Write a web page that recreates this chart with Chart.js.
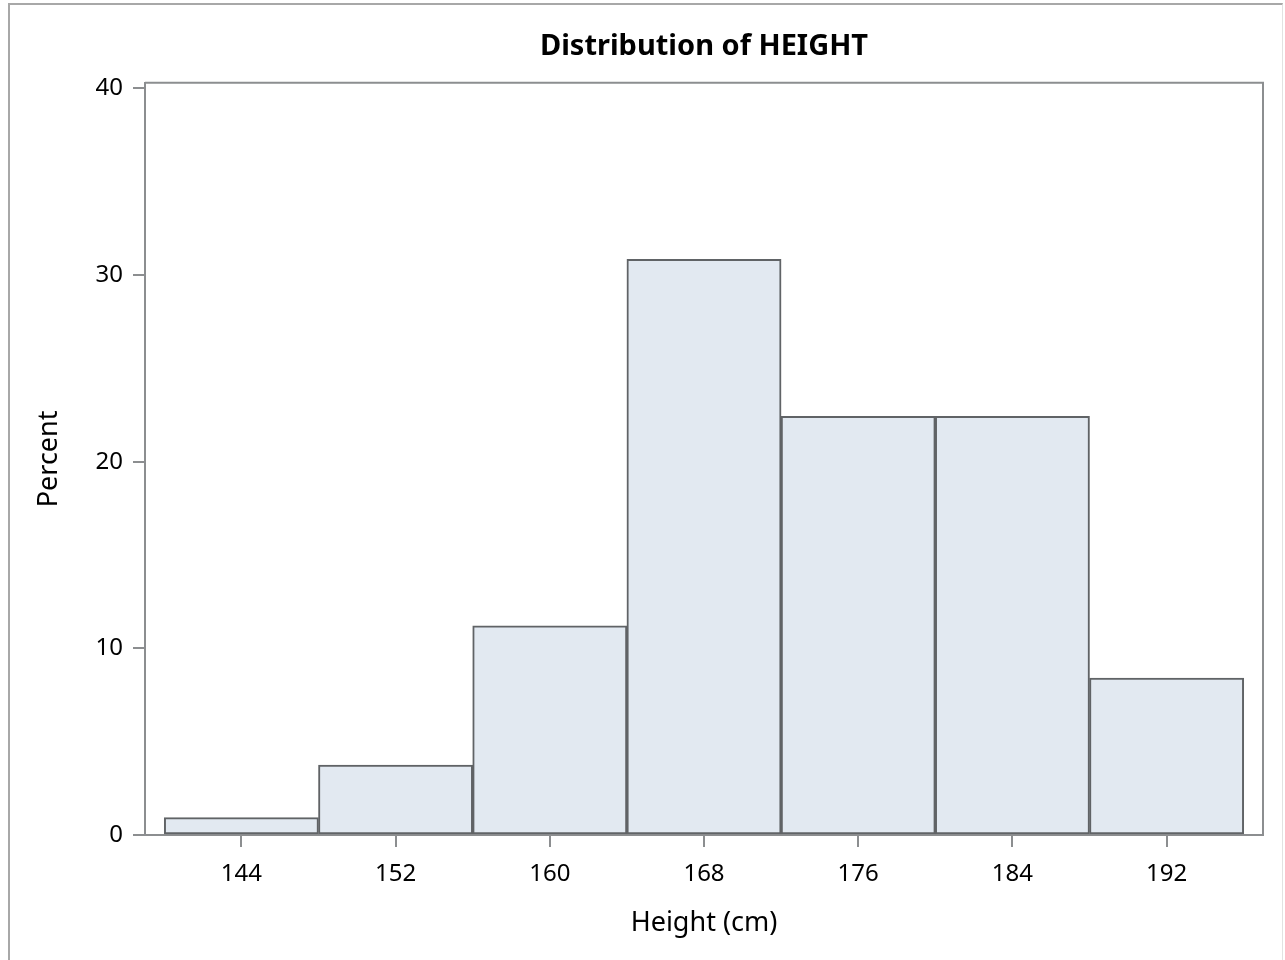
<!DOCTYPE html>
<html>
<head>
<meta charset="utf-8">
<title>Distribution of HEIGHT</title>
<script src="https://cdn.jsdelivr.net/npm/chart.js@4/dist/chart.umd.min.js"></script>
<style>
  html, body { margin: 0; padding: 0; background: #fff; overflow: hidden; }
  #frame {
    position: absolute; left: 8px; top: 3px; width: 1272px; height: 1000px;
    border-top: 2px solid #a8a8a8; border-left: 2px solid #a8a8a8; border-right: 1px solid #e2e2e2;
  }
  #wrap { position: absolute; left: 0; top: 0; width: 1285px; height: 960px; }
</style>
</head>
<body>
<div id="frame"></div>
<div id="wrap"><canvas id="histChart" width="1285" height="960"></canvas></div>
<script>
// bin midpoints (cm) and percent of observations per bin
const binMidpoints = [144, 152, 160, 168, 176, 184, 192];
const percentValues = [0.93, 3.74, 11.21, 30.84, 22.43, 22.43, 8.41];
const xTickValues = [144, 152, 160, 168, 176, 184, 192];
const yTickValues = [0, 10, 20, 30, 40];

const AXIS_GREY = '#8c8e90';

Chart.defaults.font.family = '"Noto Sans", "Open Sans", sans-serif';
Chart.defaults.color = '#000';

// top + right sides of the plot frame
const plotFrame = {
  id: 'plotFrame',
  beforeDatasetsDraw(chart) {
    const { ctx, chartArea: a } = chart;
    ctx.save();
    ctx.strokeStyle = AXIS_GREY;
    ctx.lineWidth = 2;
    ctx.beginPath();
    ctx.moveTo(a.left, a.top);
    ctx.lineTo(a.right, a.top);
    ctx.lineTo(a.right, a.bottom);
    ctx.stroke();
    ctx.restore();
  }
};

const ctx = document.getElementById('histChart').getContext('2d');
new Chart(ctx, {
  type: 'bar',
  data: {
    datasets: [{
      label: 'Percent',
      data: binMidpoints.map((x, i) => ({ x: x, y: percentValues[i] })),
      backgroundColor: '#e2e9f1',
      borderColor: '#606366',
      borderWidth: 2,
      borderSkipped: false,
      barPercentage: 1,
      categoryPercentage: 1
    }]
  },
  options: {
    responsive: false,
    animation: false,
    layout: { padding: { top: 0, right: 22, bottom: 0, left: 0 } },
    plugins: {
      legend: { display: false },
      tooltip: { enabled: false },
      title: {
        display: true,
        fullSize: false,
        text: 'Distribution of HEIGHT',
        font: { size: 29, weight: 'bold' },
        color: '#000',
        padding: { top: 29, bottom: 19 }
      }
    },
    scales: {
      x: {
        type: 'linear',
        min: 139,
        max: 197,
        offset: false,
        afterBuildTicks: s => { s.ticks = xTickValues.map(v => ({ value: v })); },
        afterFit: s => { s.height = 125; },
        grid: { offset: false, drawOnChartArea: false, color: AXIS_GREY, lineWidth: 2, tickLength: 12 },
        border: { display: true, color: AXIS_GREY, width: 2 },
        ticks: { font: { size: 24 }, padding: 13, maxRotation: 0 },
        title: {
          display: true,
          text: 'Height (cm)',
          font: { size: 27 },
          padding: { top: 0, bottom: 20 }
        }
      },
      y: {
        min: 0,
        max: 40.3,
        afterBuildTicks: s => { s.ticks = yTickValues.map(v => ({ value: v })); },
        afterFit: s => { s.width = 145; },
        grid: { drawOnChartArea: false, color: AXIS_GREY, lineWidth: 2, tickLength: 12 },
        border: { display: true, color: AXIS_GREY, width: 2 },
        ticks: { font: { size: 24 }, padding: 10 },
        title: {
          display: true,
          text: 'Percent',
          font: { size: 27 },
          padding: { top: 33, bottom: 0 }
        }
      }
    }
  },
  plugins: [plotFrame]
});
</script>
</body>
</html>
